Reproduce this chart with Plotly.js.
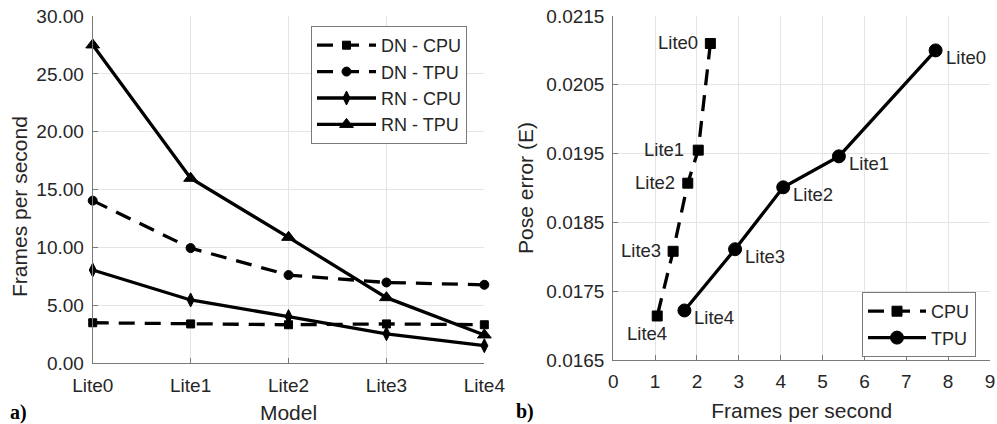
<!DOCTYPE html>
<html>
<head>
<meta charset="utf-8">
<script src="https://cdn.plot.ly/plotly-3.0.1.min.js"></script>
<style>html,body{margin:0;padding:0;background:#fff}#chart{width:997px;height:424px}</style>
</head>
<body>
<div id="chart"></div>
<script>
// ---- data: panel a) ----
const models = ['Lite0', 'Lite1', 'Lite2', 'Lite3', 'Lite4'];
const dnCpu = [3.50, 3.40, 3.33, 3.40, 3.33];
const dnTpu = [14.05, 9.95, 7.62, 6.98, 6.78];
const rnCpu = [8.06, 5.47, 4.03, 2.55, 1.52];
const rnTpu = [27.5, 15.98, 10.88, 5.67, 2.45];
const yTicksA = [0, 5, 10, 15, 20, 25, 30];

// ---- data: panel b) ----
const pointLabels = ['Lite0', 'Lite1', 'Lite2', 'Lite3', 'Lite4'];
const cpuFps = [2.32, 2.03, 1.78, 1.43, 1.05];
const cpuErr = [0.02110, 0.01955, 0.01907, 0.01808, 0.01714];
const tpuFps = [7.70, 5.39, 4.06, 2.91, 1.70];
const tpuErr = [0.02100, 0.01946, 0.01901, 0.01811, 0.01722];

const FONT = 'Liberation Sans, Arial, sans-serif';
const TXT = '#262626';
const AX = '#7a7a7a';
const GRID = '#e4e4e4';
const DASH = '16px,10px';

function line(x, y, name, dash, symbol, msize, xa, ya, legend) {
  return {
    x: x, y: y, name: name, type: 'scatter', mode: 'lines+markers',
    xaxis: xa, yaxis: ya, legend: legend, cliponaxis: false,
    line: {color: '#000', width: 3.3, dash: dash},
    marker: {symbol: symbol, size: msize, color: '#000', line: {color: '#000', width: 1}}
  };
}

const traces = [
  line(models, dnCpu, 'DN - CPU', DASH, 'square', 8, 'x', 'y', 'legend'),
  line(models, dnTpu, 'DN - TPU', DASH, 'circle', 9, 'x', 'y', 'legend'),
  line(models, rnCpu, 'RN - CPU', 'solid', 'diamond-tall', 10, 'x', 'y', 'legend'),
  line(models, rnTpu, 'RN - TPU', 'solid', 'triangle-up', 12, 'x', 'y', 'legend'),
  line(cpuFps, cpuErr, 'CPU', DASH, 'square', 10, 'x2', 'y2', 'legend2'),
  line(tpuFps, tpuErr, 'TPU', 'solid', 'circle', 13, 'x2', 'y2', 'legend2')
];

const tickFont = {family: FONT, size: 19, color: TXT};
const titleFont = {family: FONT, size: 21, color: TXT};
const axisCommon = {
  showline: true, linecolor: AX, linewidth: 1, mirror: false,
  showgrid: true, gridcolor: GRID, gridwidth: 1, zeroline: false,
  ticks: 'inside', ticklen: 5, tickcolor: AX, tickwidth: 1,
  tickfont: tickFont, fixedrange: true
};

const annotations = [];
// point labels panel b
const cpuShift = [[-10, 1], [-12, 1], [-11, 1], [-10, 1], [-10, -18]];
pointLabels.forEach((t, i) => {
  const last = i === pointLabels.length - 1;
  annotations.push({
    x: cpuFps[i], y: cpuErr[i], xref: 'x2', yref: 'y2', text: t, showarrow: false,
    xanchor: last ? 'center' : 'right', yanchor: 'middle',
    xshift: cpuShift[i][0], yshift: cpuShift[i][1],
    font: {family: FONT, size: 18.5, color: TXT}
  });
  annotations.push({
    x: tpuFps[i], y: tpuErr[i], xref: 'x2', yref: 'y2', text: t, showarrow: false,
    xanchor: 'left', yanchor: 'middle', xshift: 8, yshift: -7,
    font: {family: FONT, size: 18.5, color: TXT}
  });
});
// left y-axis title (placed as in the reference, slightly below the axis centre)
annotations.push({x: 19 / 997, y: 1 - 207 / 424, xref: 'paper', yref: 'paper', text: 'Frames per second',
  showarrow: false, textangle: -90, xanchor: 'center', yanchor: 'middle', font: titleFont});
// panel tags
annotations.push({x: 18 / 997, y: 1 - 412 / 424, xref: 'paper', yref: 'paper', text: '<b>a)</b>',
  showarrow: false, xanchor: 'center', yanchor: 'middle',
  font: {family: 'Liberation Serif, Times New Roman, serif', size: 20, color: '#000'}});
annotations.push({x: 525 / 997, y: 1 - 411 / 424, xref: 'paper', yref: 'paper', text: '<b>b)</b>',
  showarrow: false, xanchor: 'center', yanchor: 'middle',
  font: {family: 'Liberation Serif, Times New Roman, serif', size: 20, color: '#000'}});

const layout = {
  width: 997, height: 424,
  margin: {l: 0, r: 0, t: 0, b: 0},
  paper_bgcolor: '#fff', plot_bgcolor: '#fff',
  font: {family: FONT, color: TXT},
  xaxis: Object.assign({}, axisCommon, {
    type: 'category', categoryorder: 'array', categoryarray: models,
    range: [0, 4], domain: [0.0930, 0.4858], anchor: 'y', ticklabelstandoff: 5,
    title: {text: 'Model', font: titleFont, standoff: 12}
  }),
  yaxis: Object.assign({}, axisCommon, {
    range: [0, 30], tickvals: yTicksA, tickformat: '.2f',
    domain: [0.1432, 0.9623], anchor: 'x', ticklabelstandoff: 4
  }),
  xaxis2: Object.assign({}, axisCommon, {
    range: [0, 9], dtick: 1, tick0: 0,
    domain: [0.6151, 0.993], anchor: 'y2', ticklabelstandoff: 4,
    title: {text: 'Frames per second', font: titleFont, standoff: 12}
  }),
  yaxis2: Object.assign({}, axisCommon, {
    range: [0.0165, 0.0215], dtick: 0.001, tick0: 0.0165, tickformat: '.4f',
    domain: [0.1509, 0.9623], anchor: 'x2', ticklabelstandoff: 4,
    title: {text: 'Pose error (E)', font: titleFont, standoff: 6}
  }),
  legend: {
    x: 311 / 997, y: 1 - 26 / 424, xanchor: 'left', yanchor: 'top',
    bgcolor: '#fff', bordercolor: AX, borderwidth: 1,
    font: {family: FONT, size: 18, color: TXT}, itemwidth: 59,
    tracegroupgap: 0
  },
  legend2: {
    x: 862 / 997, y: 1 - 292 / 424, xanchor: 'left', yanchor: 'top',
    bgcolor: '#fff', bordercolor: AX, borderwidth: 1,
    font: {family: FONT, size: 18, color: TXT}, itemwidth: 58,
    tracegroupgap: 0
  },
  showlegend: true,
  annotations: annotations
};

Plotly.newPlot('chart', traces, layout, {displayModeBar: false, staticPlot: true});
</script>
</body>
</html>
